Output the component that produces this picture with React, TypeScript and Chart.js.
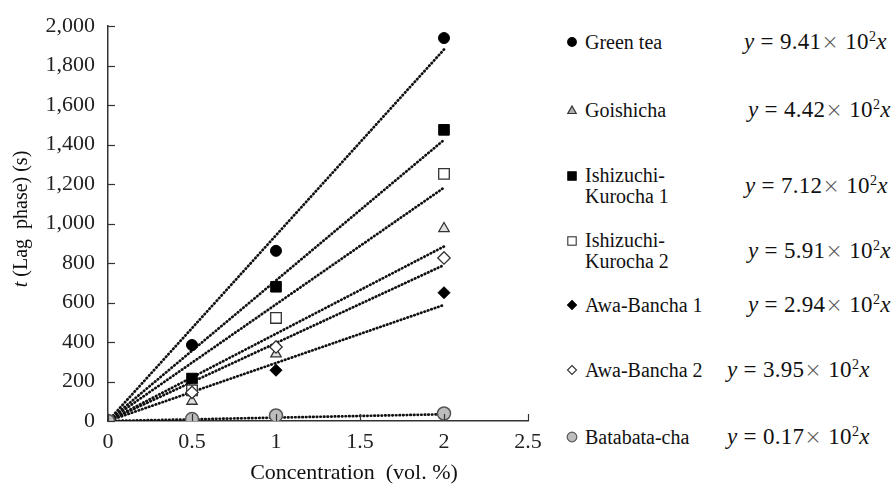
import React, { useEffect, useRef } from "react";
import { Chart, registerables } from "chart.js";

Chart.register(...registerables);

// ---------- data ----------
const concentrations = [0, 0.5, 1, 2];
const seriesNames = [
  "Green tea",
  "Goishicha",
  "Ishizuchi-Kurocha 1",
  "Ishizuchi-Kurocha 2",
  "Awa-Bancha 1",
  "Awa-Bancha 2",
  "Batabata-cha",
];
const legendLines = [
  ["Green tea"],
  ["Goishicha"],
  ["Ishizuchi-", "Kurocha 1"],
  ["Ishizuchi-", "Kurocha 2"],
  ["Awa-Bancha 1"],
  ["Awa-Bancha 2"],
  ["Batabata-cha"],
];
const greenTea = [0, 385, 862, 1940];
const goishicha = [0, 100, 340, 975];
const ishizuchi1 = [0, 215, 680, 1475];
const ishizuchi2 = [0, 155, 522, 1252];
const awaBancha1 = [0, 8, 257, 650];
const awaBancha2 = [0, 145, 375, 826];
const batabata = [0, 10, 28, 38];
const seriesValues = [greenTea, goishicha, ishizuchi1, ishizuchi2, awaBancha1, awaBancha2, batabata];
// fitted slopes: y = k × 10^2 x
const slopeCoefs = ["9.41", "4.42", "7.12", "5.91", "2.94", "3.95", "0.17"];
const slopeExponent = 2;
const fitRange = [0, 2];
const xTicks = [0, 0.5, 1, 1.5, 2, 2.5];
const yTicks = [0, 200, 400, 600, 800, 1000, 1200, 1400, 1600, 1800, 2000];
const xTitle = "Concentration\u00a0\u00a0(vol. %)";
const yTitleItalic = "t";
const yTitleRest = " (Lag\u00a0 phase) (s)";

// ---------- styles ----------
const FONT = '"Liberation Serif"';
type MarkerStyle = { shape: string; fill: string; stroke: string; r: number; bw: number };
const markers: MarkerStyle[] = [
  { shape: "circle", fill: "#000000", stroke: "#000000", r: 5.5, bw: 1 },
  { shape: "triangle", fill: "#e0e0e0", stroke: "#333333", r: 6, bw: 1.3 },
  { shape: "rect", fill: "#000000", stroke: "#000000", r: 7.5, bw: 1 },
  { shape: "rect", fill: "#ffffff", stroke: "#333333", r: 7.5, bw: 1.3 },
  { shape: "rectRot", fill: "#000000", stroke: "#000000", r: 6, bw: 1 },
  { shape: "rectRot", fill: "#ffffff", stroke: "#333333", r: 6.2, bw: 1.3 },
  { shape: "circle", fill: "#bdbdbd", stroke: "#555555", r: 6.5, bw: 1.5 },
];
const legendRows = [
  { y: 42, eqX: 744 },
  { y: 110, eqX: 748 },
  { y: 186, eqX: 745 },
  { y: 251, eqX: 748 },
  { y: 305, eqX: 748 },
  { y: 370, eqX: 727 },
  { y: 437, eqX: 727 },
];

const axisDecor = {
  id: "axisDecor",
  afterDraw(chart: any) {
    const { ctx, chartArea } = chart;
    const x = chart.scales.x;
    const y = chart.scales.y;
    ctx.save();
    ctx.strokeStyle = "#333";
    ctx.lineWidth = 1.2;
    yTicks.forEach((v) => {
      const py = Math.round(y.getPixelForValue(v)) + 0.5;
      ctx.beginPath();
      ctx.moveTo(chartArea.left, py);
      ctx.lineTo(chartArea.left + 7, py);
      ctx.stroke();
    });
    xTicks.forEach((v) => {
      const px = Math.round(x.getPixelForValue(v)) + 0.5;
      ctx.beginPath();
      ctx.moveTo(px, chartArea.bottom);
      ctx.lineTo(px, chartArea.bottom - 7);
      ctx.stroke();
    });
    // y title
    ctx.fillStyle = "#111";
    ctx.textBaseline = "middle";
    ctx.translate(22, 219);
    ctx.rotate(-Math.PI / 2);
    ctx.font = `italic 20px ${FONT}`;
    const w1 = ctx.measureText(yTitleItalic).width;
    ctx.font = `20px ${FONT}`;
    const w2 = ctx.measureText(yTitleRest).width;
    const start = -(w1 + w2) / 2;
    ctx.font = `italic 20px ${FONT}`;
    ctx.textAlign = "left";
    ctx.fillText(yTitleItalic, start, 0);
    ctx.font = `20px ${FONT}`;
    ctx.fillText(yTitleRest, start + w1, 0);
    ctx.restore();
    // x title
    ctx.save();
    ctx.fillStyle = "#111";
    ctx.font = `22px ${FONT}`;
    ctx.textAlign = "center";
    ctx.textBaseline = "middle";
    ctx.fillText(xTitle, 354, 473);
    ctx.restore();
  },
};

function Marker({ m, big }: { m: MarkerStyle; big?: boolean }) {
  const s = 12;
  const c = 6;
  let el: any;
  if (m.shape === "circle") el = <circle cx={c} cy={c} r={big ? 4.8 : 4.3} fill={m.fill} stroke={m.stroke} strokeWidth={1.2} />;
  else if (m.shape === "triangle") el = <polygon points="6,2 10.2,9.5 1.8,9.5" fill="#b0b0b0" stroke={m.stroke} strokeWidth={1.2} />;
  else if (m.shape === "rect") el = <rect x={1.8} y={1.8} width={8.4} height={8.4} fill={m.fill} stroke={m.stroke} strokeWidth={1.1} />;
  else el = <polygon points="6,1.5 10.5,6 6,10.5 1.5,6" fill={m.fill} stroke={m.stroke} strokeWidth={1.1} />;
  return (
    <svg width={s} height={s} style={{ display: "block" }}>
      {el}
    </svg>
  );
}

export default function App() {
  const ref = useRef<HTMLCanvasElement | null>(null);
  useEffect(() => {
    if (!ref.current) return;
    const datasets: any[] = [];
    slopeCoefs.forEach((k, i) => {
      const slope = parseFloat(k) * Math.pow(10, slopeExponent);
      datasets.push({
        type: "line",
        label: seriesNames[i] + " fit",
        data: fitRange.map((xv) => ({ x: xv, y: slope * xv })),
        borderColor: "#111111",
        borderWidth: 2.7,
        borderDash: [0.5, 3.1],
        borderCapStyle: "round",
        pointRadius: 0,
        showLine: true,
        fill: false,
        order: 10,
      });
    });
    seriesValues.forEach((vals, i) => {
      const m = markers[i];
      datasets.push({
        type: "scatter",
        label: seriesNames[i],
        data: concentrations.map((xv, j) => ({ x: xv, y: vals[j] })),
        pointStyle: m.shape,
        pointRadius: m.r,
        pointBackgroundColor: m.fill,
        pointBorderColor: m.stroke,
        pointBorderWidth: m.bw,
        showLine: false,
        order: 7 - i,
      });
    });
    const chart = new Chart(ref.current, {
      type: "scatter",
      data: { datasets },
      options: {
        animation: false,
        responsive: false,
        devicePixelRatio: 1,
        layout: { padding: { top: 24, right: 32, left: 0, bottom: 0 } },
        plugins: { legend: { display: false }, tooltip: { enabled: false } },
        scales: {
          x: {
            type: "linear",
            min: 0,
            max: 2.5,
            grid: { display: false, drawTicks: false },
            border: { display: true, color: "#333", width: 1.5 },
            afterBuildTicks: (s: any) => {
              s.ticks = xTicks.map((v) => ({ value: v }));
            },
            afterFit: (s: any) => {
              s.height = 67;
            },
            ticks: {
              color: "#222",
              padding: 8,
              maxRotation: 0,
              font: { family: FONT, size: 22 },
              callback: (v: any) => String(v),
            },
          },
          y: {
            type: "linear",
            min: 0,
            max: 2000,
            grid: { display: false, drawTicks: false },
            border: { display: true, color: "#333", width: 1.5 },
            afterBuildTicks: (s: any) => {
              s.ticks = yTicks.map((v) => ({ value: v }));
            },
            afterFit: (s: any) => {
              s.width = 108;
            },
            ticks: {
              color: "#222",
              padding: 13,
              font: { family: FONT, size: 22 },
              callback: (v: any) => Number(v).toLocaleString("en-US"),
            },
          },
        },
      },
      plugins: [axisDecor],
    } as any);
    return () => chart.destroy();
  }, []);

  return (
    <div style={{ position: "fixed", left: 0, top: 0, width: 896, height: 488, background: "#fff", overflow: "hidden" }}>
      <canvas ref={ref} width={560} height={488} style={{ position: "absolute", left: 0, top: 0, width: 560, height: 488 }} />
      {legendRows.map((row, i) => (
        <React.Fragment key={i}>
          <div style={{ position: "absolute", left: 566, top: row.y - (legendLines[i].length === 2 ? 16 : 6) }}>
            <Marker m={markers[i]} big={i === 6} />
          </div>
          <div
            style={{
              position: "absolute",
              left: 585,
              top: row.y,
              transform: "translateY(-50%)",
              fontFamily: FONT,
              fontSize: 20,
              lineHeight: "21px",
              color: "#111",
              whiteSpace: "nowrap",
            }}
          >
            {legendLines[i].map((t, j) => (
              <div key={j}>{t}</div>
            ))}
          </div>
          <div
            style={{
              position: "absolute",
              left: row.eqX,
              top: row.y,
              transform: "translateY(-50%)",
              fontFamily: FONT,
              fontSize: 23,
              letterSpacing: "0.3px",
              lineHeight: "24px",
              color: "#111",
              whiteSpace: "nowrap",
            }}
          >
            <i>y</i> = {slopeCoefs[i]}
            <span style={{ color: "#555", fontFamily: '"DejaVu Sans"', fontWeight: 200, fontSize: 21 }}>×</span> 10
            <sup style={{ fontSize: 14, lineHeight: 0, verticalAlign: "8px" }}>{slopeExponent}</sup>
            <i>x</i>
          </div>
        </React.Fragment>
      ))}
    </div>
  );
}
